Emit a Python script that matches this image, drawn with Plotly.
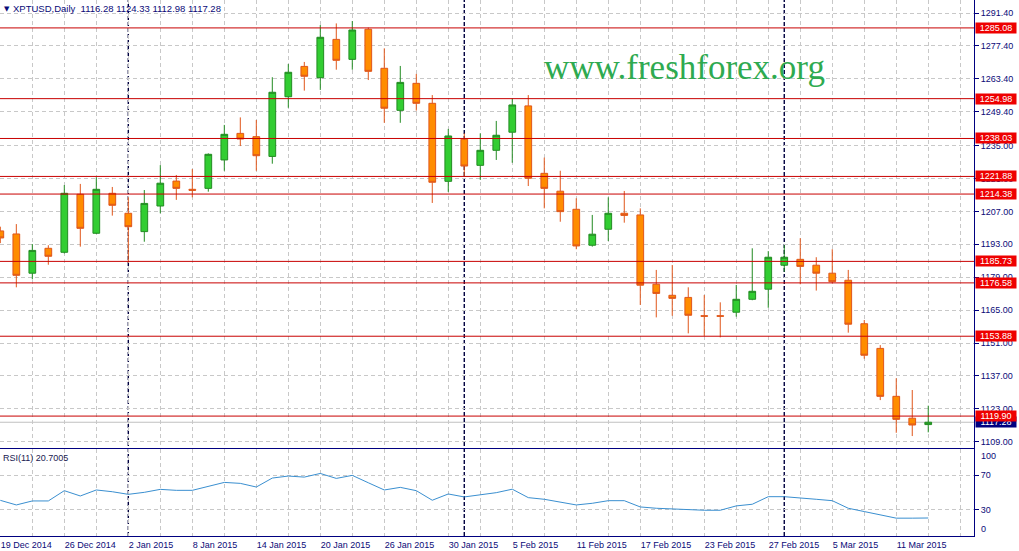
import plotly.graph_objects as go
from datetime import datetime

# ---------------- data ----------------
symbol = "XPTUSD"
timeframe = "Daily"
rsi_period = 11

dates = [
    "2014-12-19", "2014-12-22", "2014-12-23", "2014-12-24", "2014-12-26", "2014-12-29", "2014-12-30", "2014-12-31",
    "2015-01-02", "2015-01-05", "2015-01-06", "2015-01-07", "2015-01-08", "2015-01-09", "2015-01-12", "2015-01-13",
    "2015-01-14", "2015-01-15", "2015-01-16", "2015-01-19", "2015-01-20", "2015-01-21", "2015-01-22", "2015-01-23",
    "2015-01-26", "2015-01-27", "2015-01-28", "2015-01-29", "2015-01-30", "2015-02-02", "2015-02-03", "2015-02-04",
    "2015-02-05", "2015-02-06", "2015-02-09", "2015-02-10", "2015-02-11", "2015-02-12", "2015-02-13", "2015-02-16",
    "2015-02-17", "2015-02-18", "2015-02-19", "2015-02-20", "2015-02-23", "2015-02-24", "2015-02-25", "2015-02-26",
    "2015-02-27", "2015-03-02", "2015-03-03", "2015-03-04", "2015-03-05", "2015-03-06", "2015-03-09", "2015-03-10",
    "2015-03-11", "2015-03-12", "2015-03-13",
]

opens = [
    1198.7, 1197.4, 1180.7, 1191.3, 1189.6, 1214.3, 1197.7, 1214.7,
    1206.2, 1198.4, 1209.3, 1219.9, 1216.4, 1216.8, 1228.9, 1240.2,
    1238.8, 1230.4, 1255.8, 1268.7, 1263.9, 1280.2, 1271.7, 1284.5,
    1267.9, 1250.0, 1261.5, 1253.0, 1219.8, 1237.7, 1226.6, 1233.0,
    1240.7, 1251.9, 1223.2, 1215.6, 1207.9, 1192.6, 1199.4, 1206.2,
    1205.5, 1176.0, 1171.3, 1170.4, 1162.6, 1162.6, 1164.1, 1169.6,
    1173.9, 1184.1, 1186.6, 1184.1, 1180.7, 1177.7, 1159.2, 1148.7,
    1128.3, 1119.0, 1116.28,
]
highs = [
    1200.5, 1201.6, 1193.1, 1192.6, 1218.2, 1218.7, 1221.5, 1217.4,
    1213.0, 1216.1, 1226.7, 1222.5, 1225.0, 1231.7, 1243.8, 1247.0,
    1245.9, 1264.1, 1269.7, 1270.6, 1286.3, 1287.0, 1288.0, 1285.2,
    1276.4, 1268.9, 1265.5, 1256.5, 1242.1, 1240.2, 1240.2, 1245.5,
    1255.1, 1256.5, 1229.9, 1224.3, 1212.6, 1205.5, 1213.0, 1215.7,
    1208.3, 1182.1, 1184.2, 1174.7, 1171.4, 1168.3, 1175.7, 1191.3,
    1190.1, 1192.7, 1195.6, 1187.5, 1190.9, 1182.1, 1160.8, 1150.1,
    1136.0, 1131.0, 1124.33,
]
lows = [
    1193.5, 1174.7, 1178.1, 1184.3, 1189.1, 1192.0, 1197.4, 1205.2,
    1185.2, 1194.1, 1206.2, 1211.9, 1213.0, 1215.4, 1224.3, 1234.8,
    1224.3, 1227.3, 1251.1, 1258.4, 1258.7, 1267.3, 1267.3, 1262.9,
    1244.7, 1244.7, 1249.9, 1210.6, 1215.3, 1221.8, 1220.4, 1228.9,
    1227.7, 1217.8, 1208.3, 1202.6, 1190.9, 1192.0, 1194.4, 1202.2,
    1167.2, 1161.9, 1162.6, 1155.1, 1154.0, 1153.4, 1162.2, 1169.2,
    1166.0, 1181.3, 1176.0, 1173.3, 1176.4, 1155.4, 1144.3, 1126.7,
    1112.8, 1111.4, 1112.98,
]
closes = [
    1195.7, 1179.8, 1190.4, 1187.9, 1214.7, 1199.8, 1216.4, 1209.6,
    1200.5, 1210.4, 1219.0, 1216.8, 1216.0, 1231.3, 1239.8, 1237.8,
    1230.7, 1257.7, 1266.2, 1264.5, 1281.1, 1271.3, 1284.2, 1266.6,
    1250.9, 1261.9, 1253.0, 1219.4, 1239.1, 1226.3, 1233.0, 1239.4,
    1252.3, 1221.1, 1216.8, 1206.9, 1192.3, 1197.3, 1206.2, 1205.3,
    1175.6, 1172.1, 1170.0, 1162.8, 1162.4, 1162.4, 1169.6, 1173.0,
    1187.5, 1187.5, 1183.6, 1180.7, 1177.1, 1159.0, 1145.8, 1128.3,
    1118.5, 1116.1, 1117.28,
]
rsi = [
    41.0, 35.7, 40.3, 40.3, 52.1, 46.0, 52.9, 50.9, 47.9, 50.2,
    53.6, 52.5, 52.5, 57.4, 61.6, 60.5, 56.3, 66.6, 68.9, 67.7,
    71.9, 66.2, 69.7, 61.2, 52.9, 55.9, 52.1, 41.1, 48.3, 44.9,
    47.1, 49.8, 53.8, 44.1, 42.2, 39.1, 35.7, 37.6, 40.6, 40.6,
    33.4, 31.9, 31.1, 29.6, 29.6, 29.6, 34.6, 36.5, 45.2, 45.2,
    44.1, 42.2, 40.6, 31.9, 28.1, 23.9, 20.5, 20.5, 20.7005,
]
levels = [1285.08, 1254.98, 1238.03, 1221.88, 1214.38, 1185.73, 1176.58, 1153.88, 1119.90]
price_ticks = [1291.40, 1277.40, 1263.40, 1249.40, 1235.00, 1221.00, 1207.00,
               1193.00, 1179.00, 1165.00, 1151.00, 1137.00, 1123.00, 1109.00]
rsi_levels = [30, 70]
rsi_edge_labels = [100, 0]

# ---------------- derived ----------------
idx = list(range(len(dates)))
parsed = [datetime.strptime(d, "%Y-%m-%d") for d in dates]
labels = [f"{d.day} {d.strftime('%b %Y')}" for d in parsed]
grid_idx = idx[::2] + [idx[-1] + 2]
grid_txt = [labels[i] if (i < len(labels) and i % 4 == 0) else "" for i in grid_idx]
sep_idx = [i for i in idx[1:] if parsed[i].month != parsed[i - 1].month]

NAVY = "#0a0a78"
GRID = "#c8c8c8"
FONT = "Liberation Sans"
W, H = 1019, 551
ML, MR, MT, MB = 0, 45, 0, 15
PH = H - MT - MB
main_bottom_px = 447.5
rsi_top_px = 449.0

fig = go.Figure()

fig.add_trace(go.Candlestick(
    x=idx, open=opens, high=highs, low=lows, close=closes,
    xaxis="x", yaxis="y",
    increasing=dict(fillcolor="#32cd32", line=dict(color="#228b22", width=1)),
    decreasing=dict(fillcolor="#ff8c00", line=dict(color="#e0561a", width=1)),
    whiskerwidth=0, showlegend=False, hoverinfo="skip",
))

fig.add_trace(go.Scatter(
    x=idx, y=rsi, mode="lines", xaxis="x2", yaxis="y2",
    line=dict(color="#3a8fd0", width=1), showlegend=False, hoverinfo="skip",
))

xr = [-0.02, 60.86]
common_x = dict(range=xr, showgrid=True, gridcolor=GRID, griddash="4px,3px", gridwidth=1,
                tickmode="array", tickvals=grid_idx, zeroline=False, automargin=False,
                showline=True, linecolor="#000080", linewidth=1)

shapes = []
for lv in levels:
    shapes.append(dict(type="line", xref="paper", x0=0, x1=1, yref="y", y0=lv, y1=lv,
                       line=dict(color="#c80000", width=1), layer="above"))
shapes.append(dict(type="line", xref="paper", x0=0, x1=1, yref="y", y0=closes[-1], y1=closes[-1],
                   line=dict(color="#c0c0c0", width=1), layer="between"))
for s in sep_idx:
    shapes.append(dict(type="line", xref="x", x0=s, x1=s, yref="paper", y0=0, y1=1,
                       line=dict(color="#000040", width=1.4, dash="4px,2px"), layer="between"))

annotations = []
annotations.append(dict(xref="paper", x=1, xanchor="left", xshift=1, yref="y", y=closes[-1],
                        yanchor="middle", text=f"{closes[-1]:.2f}", showarrow=False,
                        bgcolor="#000080", font=dict(family=FONT, size=9, color="white"),
                        width=40, height=10, borderpad=0))
for lv in levels:
    annotations.append(dict(xref="paper", x=1, xanchor="left", xshift=1, yref="y", y=lv,
                            yanchor="middle", text=f"{lv:.2f}", showarrow=False,
                            bgcolor="#ee0000", font=dict(family=FONT, size=9, color="white"),
                            width=40, height=10, borderpad=0))
annotations.append(dict(xref="paper", x=0, xanchor="left", xshift=2, yref="paper", y=1,
                        yanchor="top", yshift=-3, text="▼", showarrow=False,
                        font=dict(family="DejaVu Sans", size=7, color=NAVY)))
annotations.append(dict(xref="paper", x=0, xanchor="left", xshift=11, yref="paper", y=1,
                        yanchor="top", yshift=-1,
                        text=f"{symbol},{timeframe}  {opens[-1]:.2f} {highs[-1]:.2f} {lows[-1]:.2f} {closes[-1]:.2f}",
                        showarrow=False, font=dict(family=FONT, size=9.5, color=NAVY)))
annotations.append(dict(xref="paper", x=684 / (W - MR), xanchor="center", yref="paper",
                        y=1 - 67 / PH, yanchor="middle", text="www.freshforex.org", showarrow=False,
                        font=dict(family="Liberation Serif", size=35, color="#2eaa50")))
annotations.append(dict(xref="paper", x=0, xanchor="left", xshift=1, yref="y2", y=100,
                        yanchor="top", yshift=-2, text=f"RSI({rsi_period}) {rsi[-1]:.4f}",
                        showarrow=False, font=dict(family=FONT, size=9, color="#202050")))
for v, sh in zip(rsi_edge_labels, [-7, 7]):
    annotations.append(dict(xref="paper", x=1, xanchor="left", xshift=5, yref="y2", y=v,
                            yanchor="middle", yshift=sh, text=str(v), showarrow=False,
                            font=dict(family=FONT, size=9, color=NAVY)))

fig.update_layout(
    width=W, height=H, margin=dict(l=ML, r=MR, t=MT, b=MB, autoexpand=False),
    paper_bgcolor="white", plot_bgcolor="white",
    boxgap=0.4,
    showlegend=False,
    xaxis=dict(**common_x, anchor="y", showticklabels=False, ticks="",
               rangeslider=dict(visible=False)),
    xaxis2=dict(**common_x, anchor="y2", matches="x", ticktext=grid_txt,
                ticks="", ticklabelposition="outside right", mirror=True,
                tickfont=dict(family=FONT, size=9, color=NAVY)),
    yaxis=dict(domain=[(PH - main_bottom_px) / PH, 1], range=[1106.53, 1296.96], side="right",
               anchor="x", tickmode="array", tickvals=price_ticks, automargin=False,
               ticktext=[f"{t:.2f}" for t in price_ticks],
               ticks="outside", ticklen=4, tickcolor="#000080",
               showgrid=True, gridcolor=GRID, griddash="4px,3px", zeroline=False,
               showline=True, linecolor="#000080", linewidth=1,
               tickfont=dict(family=FONT, size=9, color=NAVY)),
    yaxis2=dict(domain=[0, (PH - rsi_top_px) / PH], range=[0, 100], side="right",
                anchor="x2", tickmode="array", tickvals=rsi_levels, automargin=False,
                ticktext=[str(v) for v in rsi_levels],
                ticks="outside", ticklen=4, tickcolor="#000080",
                showgrid=True, gridcolor=GRID, griddash="4px,3px", zeroline=False,
                showline=True, linecolor="#000080", linewidth=1,
                tickfont=dict(family=FONT, size=9, color=NAVY)),
    shapes=shapes,
    annotations=annotations,
)

fig.write_html(
    "out.html",
    config={"displayModeBar": False},
    post_script="document.body.style.margin='0px';document.body.style.overflow='hidden';",
)
